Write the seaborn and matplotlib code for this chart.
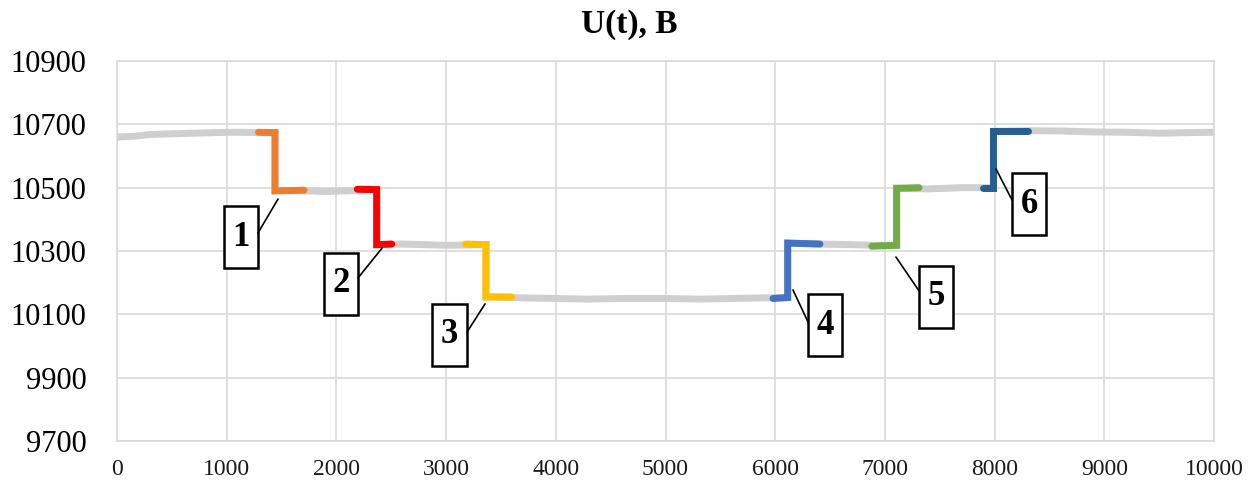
import matplotlib
matplotlib.use("Agg")
import matplotlib.pyplot as plt
import seaborn as sns
import pandas as pd
from matplotlib.patches import Rectangle

# ---------------- data ----------------
# full measured trace U(t) (grey), hand-read points
gray_t = [0, 150, 300, 500, 700, 900, 1100, 1290, 1440, 1440, 1700, 1900, 2100, 2367, 2367,
          2600, 2800, 3000, 3363, 3363, 3700, 4000, 4300, 4600, 5000, 5300, 5600, 5900, 6114,
          6114, 6400, 6700, 6900, 7107, 7107, 7400, 7700, 7989, 7989, 8300, 8600, 8900, 9200,
          9500, 9800, 10000]
gray_u = [10660, 10662, 10668, 10670, 10672, 10674, 10675, 10674, 10674, 10490, 10490, 10488,
          10490, 10494, 10320, 10322, 10320, 10318, 10320, 10155, 10152, 10150, 10148, 10150,
          10150, 10148, 10150, 10152, 10153, 10325, 10322, 10320, 10318, 10318, 10498, 10496,
          10500, 10500, 10678, 10680, 10679, 10676, 10675, 10672, 10674, 10675]

# highlighted switching events 1..6
ev_labels = ["1", "2", "3", "4", "5", "6"]
ev_t = [[1290, 1440, 1440, 1705],
        [2190, 2367, 2367, 2504],
        [3178, 3363, 3363, 3598],
        [5980, 6114, 6114, 6408],
        [6880, 7107, 7107, 7311],
        [7891, 7989, 7989, 8307]]
ev_u = [[10675, 10674, 10490, 10492],
        [10495, 10494, 10320, 10322],
        [10322, 10320, 10155, 10155],
        [10150, 10153, 10325, 10322],
        [10315, 10318, 10498, 10500],
        [10500, 10500, 10678, 10678]]
ev_colors = ["#ED7D31", "#FF0000", "#FFC000", "#4472C4", "#70AD47", "#255E91"]

x_ticks = list(range(0, 10001, 1000))
y_ticks = list(range(9700, 10901, 200))
title = "U(t), B"

# ---------------- layout of the numbered call-out boxes ----------------
# (box centre x, box centre y, leader start x, y, leader end x, y)
callouts = [(1130, 10344, 1285, 10357, 1468, 10464),
            (2042, 10197, 2197, 10215, 2416, 10309),
            (3031, 10035, 3191, 10044, 3355, 10133),
            (6454, 10065, 6299, 10076, 6162, 10177),
            (7470, 10156, 7311, 10174, 7101, 10281),
            (8318, 10447, 8159, 10461, 8013, 10559)]
box_w, box_h = 310, 196

# ---------------- build frame ----------------
rows = [("trace", t, u) for t, u in zip(gray_t, gray_u)]
for lab, ts, us in zip(ev_labels, ev_t, ev_u):
    rows += [(lab, t, u) for t, u in zip(ts, us)]
df = pd.DataFrame(rows, columns=["seg", "t", "U"])
palette = {"trace": "#D0CECE"}
palette.update(dict(zip(ev_labels, ev_colors)))

sns.set_theme(style="white")
plt.rcParams["font.family"] = ["Liberation Serif", "DejaVu Serif"]
plt.rcParams["text.color"] = "black"

fig = plt.figure(figsize=(12.59, 4.8), dpi=100)
ax = fig.add_axes([117 / 1259, 1 - 441 / 480, (1214 - 117) / 1259, (441 - 61) / 480])

sns.lineplot(data=df, x="t", y="U", hue="seg", palette=palette, estimator=None,
             sort=False, linewidth=5.0, legend=False, ax=ax,
             hue_order=["trace"] + ev_labels)
for ln in ax.lines:
    ln.set_solid_joinstyle("miter")

ax.set_xlim(0, 10000)
ax.set_ylim(9700, 10900)
ax.set_xticks(x_ticks)
ax.set_yticks(y_ticks)
ax.set_xlabel("")
ax.set_ylabel("")
ax.grid(True, color="#D9D9D9", linewidth=1.2)
ax.set_axisbelow(True)
for sp in ax.spines.values():
    sp.set_color("#D9D9D9")
    sp.set_linewidth(1.2)
ax.tick_params(axis="y", labelsize=22, length=0, pad=22, labelcolor="black")
ax.tick_params(axis="x", labelsize=17, length=0, pad=13, labelcolor="#1a1a1a")

fig.text(0.5, 1 - 25 / 480, title, ha="center", va="center", fontsize=24,
         fontweight="bold", color="black")

for lab, (cx, cy, x0, y0, x1, y1) in zip(ev_labels, callouts):
    ax.add_patch(Rectangle((cx - box_w / 2, cy - box_h / 2), box_w, box_h,
                           facecolor="white", edgecolor="black", linewidth=1.8,
                           zorder=5))
    ax.text(cx, cy, lab, ha="center", va="center", fontsize=25, fontweight="heavy",
            color="black", zorder=6)
    ax.plot([x0, x1], [y0, y1], color="black", linewidth=1.2, zorder=5)

fig.savefig("out.png", dpi=100)
